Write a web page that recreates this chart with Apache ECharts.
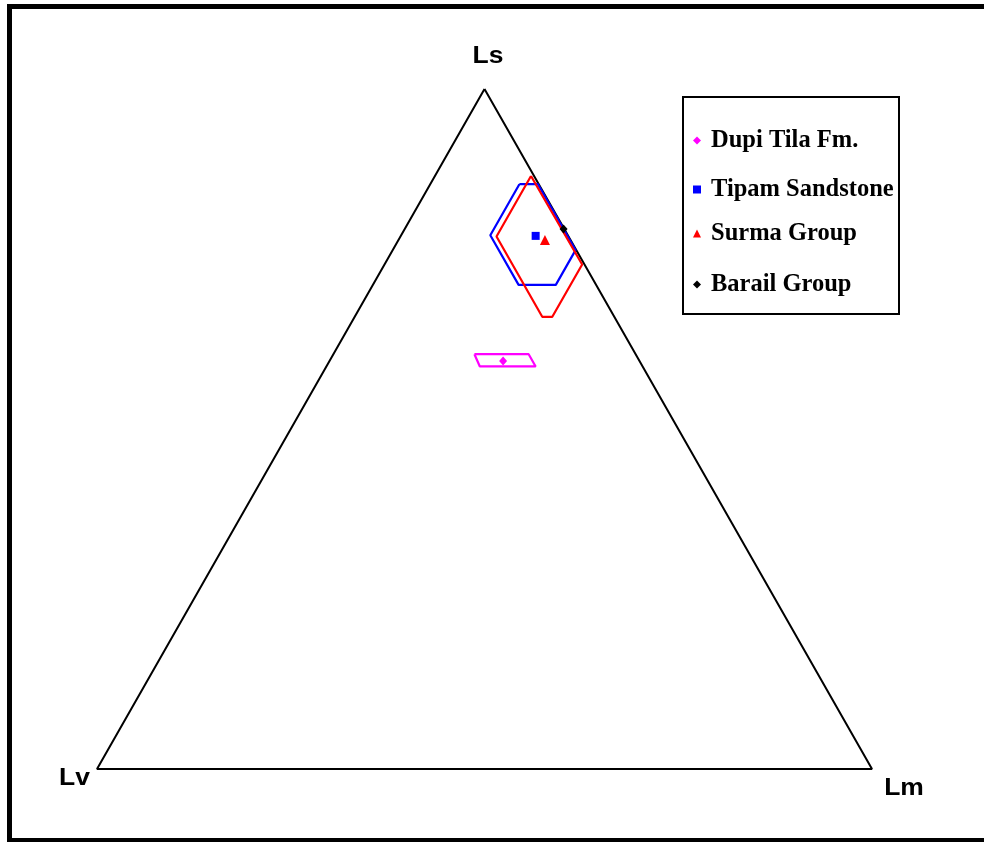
<!DOCTYPE html>
<html>
<head>
<meta charset="utf-8">
<script src="https://cdn.jsdelivr.net/npm/echarts@6/dist/echarts.min.js"></script>
<style>
  html, body { margin: 0; padding: 0; background: #fff; }
  #chart { width: 984px; height: 842px; }
</style>
</head>
<body>
<div id="chart"></div>
<script>
// Ternary lithic-fragment plot: Ls (top), Lv (bottom left), Lm (bottom right).
// Compositions are in percent, ordered [Ls, Lm, Lv].
const groups = ['Dupi Tila Fm.', 'Tipam Sandstone', 'Surma Group', 'Barail Group'];
const groupColors = ['#ff00ff', '#0000ff', '#ff0000', '#000000'];
const groupSymbols = ['diamond', 'rect', 'triangle', 'diamond'];

// Mean composition of each group
const meanLs = [60.0, 78.4, 77.8, 79.4];
const meanLm = [22.4, 17.4, 18.9, 20.5];
const meanLv = [17.6, 4.2, 3.3, 0.1];

// Standard-deviation fields (polygon vertices) around the means
const dupiField = [[61.0, 18.2, 20.8], [60.8, 18.2, 21.0], [59.2, 19.8, 21.0], [59.2, 27.0, 13.8], [61.0, 25.2, 13.8]];
const tipamField = [[86.0, 11.5, 2.5], [86.0, 13.9, 0.1], [76.3, 23.6, 0.1], [71.2, 23.6, 5.2], [71.2, 18.8, 10.0], [78.5, 11.5, 10.0]];
const surmaField = [[87.2, 12.4, 0.4], [87.2, 12.5, 0.3], [74.2, 25.5, 0.3], [66.5, 25.5, 8.0], [66.5, 24.2, 9.3], [78.3, 12.4, 9.3]];
const fields = [dupiField, tipamField, surmaField];

// Triangle apexes
const apexNames = ['Ls', 'Lv', 'Lm'];
const apexes = [[100, 0, 0], [0, 0, 100], [0, 100, 0]];

// Ternary -> plane (x runs Lv->Lm, y is Ls)
function toXY(c) {
  const ls = c[0], lm = c[1];
  return [lm + ls / 2, ls];
}
function closed(list) {
  const pts = list.map(toXY);
  pts.push(pts[0]);
  return pts;
}

const series = [];
series.push({
  name: 'frame',
  type: 'line',
  data: closed(apexes),
  symbol: 'none',
  silent: true,
  clip: false,
  lineStyle: { color: '#000', width: 2 },
  z: 2
});
fields.forEach((f, i) => {
  series.push({
    name: groups[i] + ' field',
    type: 'line',
    data: closed(f),
    symbol: 'none',
    silent: true,
    clip: false,
    lineStyle: { color: groupColors[i], width: 2.2 },
    z: 3
  });
});
const symbolSizes = [[8, 9], 8, 10, [8, 9]];
groups.forEach((g, i) => {
  series.push({
    name: g,
    type: 'scatter',
    data: [toXY([meanLs[i], meanLm[i], meanLv[i]])],
    symbol: groupSymbols[i],
    symbolSize: symbolSizes[i],
    clip: false,
    itemStyle: { color: groupColors[i], opacity: 1 },
    z: 5
  });
});

// One legend row per group, stacked inside the box
const legendRowY = [140, 189, 233, 284];
const legends = groups.map((g, i) => ({
  data: [{ name: g, icon: groupSymbols[i] }],
  left: 693,
  top: legendRowY[i] - 12,
  padding: 0,
  itemWidth: 8,
  itemHeight: 8,
  itemGap: 0,
  selectedMode: false,
  itemStyle: { opacity: 1 },
  textStyle: {
    fontFamily: 'Liberation Serif',
    fontWeight: 'bold',
    fontSize: 24.5,
    lineHeight: 24,
    color: '#000',
    padding: [0, 0, 0, 5]
  }
}));

const chart = echarts.init(document.getElementById('chart'), null, { renderer: 'canvas' });
const labelFont = { fontFamily: 'Liberation Sans', fontWeight: 'bold', fontSize: 23, fill: '#000' };
function apexLabel(text, x, y) {
  return {
    type: 'text', x: x, y: y, scaleX: 1.15, silent: true,
    style: Object.assign({ text: text, align: 'center', verticalAlign: 'middle' }, labelFont)
  };
}
chart.setOption({
  animation: false,
  backgroundColor: '#fff',
  grid: { left: 97, right: 112, top: 89, bottom: 73 },
  xAxis: { type: 'value', min: 0, max: 100, show: false },
  yAxis: { type: 'value', min: 0, max: 100, show: false },
  legend: legends,
  series: series,
  graphic: [
    // outer border (top, left, bottom)
    { type: 'line', shape: { x1: 7, y1: 6.5, x2: 984, y2: 6.5 }, style: { stroke: '#000', lineWidth: 5 }, silent: true },
    { type: 'line', shape: { x1: 9.5, y1: 4, x2: 9.5, y2: 842 }, style: { stroke: '#000', lineWidth: 5 }, silent: true },
    { type: 'line', shape: { x1: 7, y1: 840, x2: 984, y2: 840 }, style: { stroke: '#000', lineWidth: 4 }, silent: true },
    // legend box
    { type: 'rect', shape: { x: 683, y: 97, width: 216, height: 217 }, style: { fill: 'none', stroke: '#000', lineWidth: 2 }, silent: true, z: 1 },
    // apex labels
    apexLabel(apexNames[0], 488, 57),
    apexLabel(apexNames[1], 74.5, 779),
    apexLabel(apexNames[2], 904, 789)
  ]
});
</script>
</body>
</html>
